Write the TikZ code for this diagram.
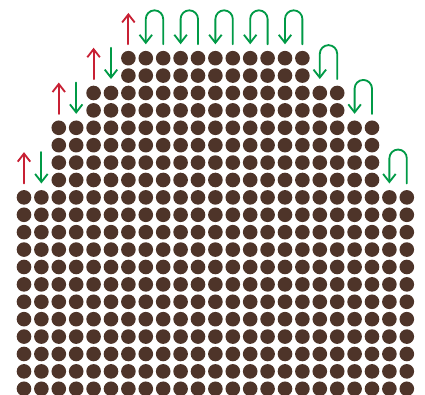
\documentclass[tikz,border=0pt]{standalone}
\usetikzlibrary{arrows.meta}
\definecolor{choco}{RGB}{78,52,41}
\definecolor{upred}{RGB}{200,32,52}
\definecolor{downgreen}{RGB}{0,154,70}
\begin{document}
\begin{tikzpicture}[x=0.5cm,y=0.5cm,line join=round,line cap=round,>={Straight Barb[length=2.3mm,width=3.6mm]},
	dot/.style={fill=choco},
	uparr/.style={upred,line width=1.5pt,->},
	downarr/.style={downgreen,line width=1.5pt,->}]
	\useasboundingbox (0,0) rectangle (24.425,22.644);
	\begin{scope}[shift={(1.379,19.3)}]
		% rows of dots, narrower at the top
		\foreach \r in {0,...,19}{\pgfmathtruncatemacro{\a}{\r<2 ? 6 : (\r<4 ? 4 : (\r<8 ? 2 : 0))}\pgfmathtruncatemacro{\b}{22-\a}\foreach \c in {\a,...,\b} \fill[dot] (\c,-\r) circle (0.42);}
		% left side of each step
		\foreach \r/\c in {0/6,2/4,4/2,8/0}{\draw[uparr] (\c,0.8-\r) -- ++(0,1.8);}
		\foreach \r/\c in {2/5,4/3,8/1}{\draw[downarr] (\c,2.6-\r) -- ++(0,-1.8);}
		% loops
		\foreach \r/\c in {0/7,0/9,0/11,0/13,0/15,2/17,4/19,8/21}{\draw[downarr] (\c+1,0.8-\r) -- ++(0,1.45) arc (0:180:0.5) -- ++(0,-1.45);}
	\end{scope}
\end{tikzpicture}
\end{document}
